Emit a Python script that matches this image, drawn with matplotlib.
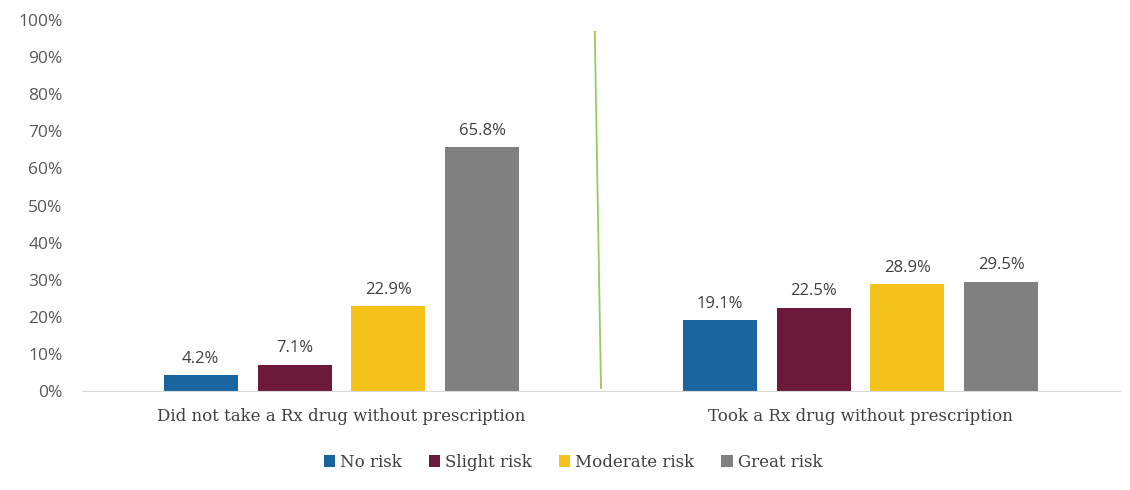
import numpy as np
import matplotlib.pyplot as plt
from matplotlib.ticker import PercentFormatter

groups = ["Did not take a Rx drug without prescription", "Took a Rx drug without prescription"]
risk_levels = ["No risk", "Slight risk", "Moderate risk", "Great risk"]
no_risk = [4.2, 19.1]
slight_risk = [7.1, 22.5]
moderate_risk = [22.9, 28.9]
great_risk = [65.8, 29.5]

series = [no_risk, slight_risk, moderate_risk, great_risk]
colors = ["#1a65a0", "#6b1a3a", "#f5c21b", "#808080"]

fig = plt.figure(figsize=(11.3, 4.9), dpi=100)
ax = fig.add_axes([82 / 1130, 1 - 391 / 490, 1038 / 1130, 371 / 490])

x = np.arange(len(groups))
width = 0.1426
step = 0.181
for i, (vals, c) in enumerate(zip(series, colors)):
    pos = x + (i - 1.5) * step
    bars = ax.bar(pos, vals, width, color=c, label=risk_levels[i], zorder=2)
    for b, v in zip(bars, vals):
        ax.text(b.get_x() + b.get_width() / 2, v + 2.2, f"{v:.1f}%", ha="center", va="bottom",
                fontsize=12, color="#404040", family="Open Sans")

# green divider line between the two groups
ax.plot([0.488, 0.5], [96.8, 0.8], color="#9bc865", lw=1.3, zorder=3)

ax.set_xlim(-0.5, 1.5)
ax.set_ylim(0, 100)
ax.set_yticks(range(0, 101, 10))
ax.yaxis.set_major_formatter(PercentFormatter(decimals=0))
ax.set_xticks(x)
ax.set_xticklabels(groups, family="DejaVu Serif", fontsize=12, color="#404040")
for s in ["top", "right", "left"]:
    ax.spines[s].set_visible(False)
ax.spines["bottom"].set_color("#d9d9d9")
ax.tick_params(axis="y", length=0, labelsize=12.5, labelcolor="#595959", pad=14)
ax.tick_params(axis="x", length=0, pad=12)
for t in ax.get_yticklabels():
    t.set_family("Open Sans")

leg = fig.legend(loc="center", bbox_to_anchor=(573 / 1130, 1 - 462 / 490), ncol=4, frameon=False,
                 handlelength=0.7, handleheight=0.7, handletextpad=0.3, columnspacing=1.6,
                 prop={"family": "DejaVu Serif", "size": 12})
for t in leg.get_texts():
    t.set_color("#404040")

fig.savefig("out.png", dpi=100)
